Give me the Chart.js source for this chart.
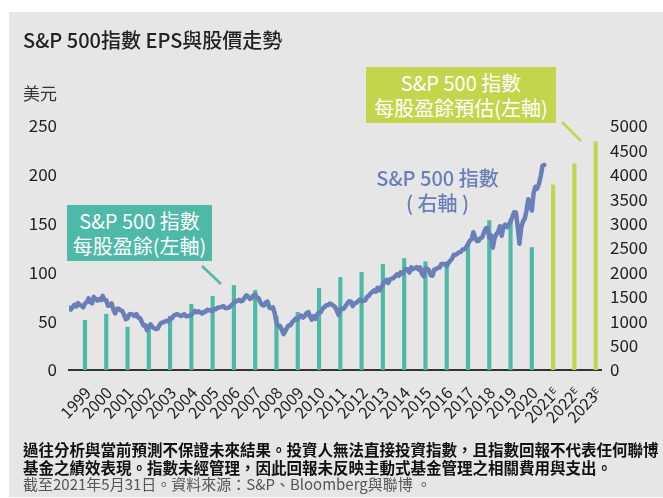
<!DOCTYPE html>
<html><head><meta charset="utf-8">
<script src="https://cdn.jsdelivr.net/npm/chart.js@4.4.1/dist/chart.umd.min.js"></script>
<style>
html,body{margin:0;padding:0;background:#fff;}
#wrap{position:relative;width:663px;height:498px;overflow:hidden;font-family:"Noto Sans CJK TC","Noto Sans",sans-serif;}
#panel{position:absolute;left:9px;top:12px;width:654px;height:485px;background:#e6e6e6;}
#c{position:absolute;left:0;top:0;}
.t{position:absolute;white-space:nowrap;}
.box{color:#fff;font-size:20px;line-height:25px;text-align:center;box-sizing:border-box;padding-top:3px;}
</style></head><body>
<div id="wrap">
<div id="panel"></div>
<canvas id="c" width="663" height="498"></canvas>
<div class="t" style="left:23px;top:27px;font-size:20px;color:#222;font-weight:500;line-height:26px">S&amp;P 500指數 EPS與股價走勢</div>
<div class="t" style="left:23px;top:82px;font-size:17px;color:#333;line-height:22px">美元</div>
<div class="t box" style="left:67px;top:205px;width:145px;height:56px;background:#4fb9a8;">S&amp;P 500 指數<br>每股盈餘(左軸)</div>
<div class="t box" style="left:366px;top:67px;width:190px;height:56px;background:#c3d54c;">S&amp;P 500 指數<br>每股盈餘預估(左軸)</div>
<div class="t" style="left:357px;top:165px;width:161px;text-align:center;font-size:20px;line-height:25px;color:#6a7fb8;font-weight:500">S&amp;P 500 指數<br>( 右軸 )</div>
<div class="t" style="left:23px;top:440px;font-size:15.5px;line-height:18px;color:#111;font-weight:700">過往分析與當前預測不保證未來結果。投資人無法直接投資指數，且指數回報不代表任何聯博<br>基金之績效表現。指數未經管理，因此回報未反映主動式基金管理之相關費用與支出。</div>
<div class="t" style="left:23px;top:475px;font-size:15px;line-height:18px;color:#555;">截至2021年5月31日。資料來源：S&amp;P、Bloomberg與聯博 。</div>
</div>
<script>
// Categories (years)
const years = ['1999','2000','2001','2002','2003','2004','2005','2006','2007','2008','2009','2010','2011','2012','2013','2014','2015','2016','2017','2018','2019','2020','2021ᴱ','2022ᴱ','2023ᴱ'];
// S&P 500 EPS, actual (USD, left axis)
const epsActual = [51.3,57.5,44.2,47,55.4,67.7,75.8,87,82,55.4,59.5,84,95.2,100.3,108.5,114.6,111.2,111.2,127.9,153.4,154.4,125.8];
// S&P 500 EPS, estimates (USD, left axis)
const epsEstimate = [190.1,211.5,234];
// S&P 500 index monthly level, Jan 1999 - May 2021 (right axis)
const spxStartYear = 1999;
const spxMonthly = [
1280,1238,1286,1335,1302,1373,1329,1320,1283,1363,1389,1469,
1394,1366,1499,1452,1421,1455,1431,1518,1437,1429,1315,1320,
1366,1240,1160,1249,1256,1224,1211,1134,1041,1060,1139,1148,
1130,1107,1147,1076,1067,990,912,916,815,886,936,880,
856,841,848,917,964,975,990,1008,996,1051,1058,1112,
1131,1145,1126,1107,1121,1141,1102,1104,1115,1130,1174,1212,
1181,1204,1181,1157,1192,1191,1234,1220,1229,1207,1249,1248,
1280,1281,1295,1311,1270,1270,1277,1304,1336,1378,1401,1418,
1438,1407,1421,1482,1531,1503,1455,1474,1527,1549,1481,1468,
1379,1331,1323,1386,1400,1280,1267,1283,1165,969,896,903,
826,735,798,873,919,919,987,1021,1057,1036,1096,1115,
1074,1104,1169,1187,1089,1031,1102,1049,1141,1183,1181,1258,
1286,1327,1326,1364,1345,1321,1292,1219,1131,1253,1247,1258,
1312,1366,1408,1398,1310,1362,1379,1407,1441,1412,1416,1426,
1498,1515,1569,1598,1631,1606,1686,1633,1682,1757,1806,1848,
1783,1859,1872,1884,1924,1960,1931,2003,1972,2018,2068,2059,
1995,2105,2068,2086,2107,2063,2104,1972,1920,2079,2080,2044,
1940,1932,2060,2065,2097,2099,2174,2171,2168,2126,2199,2239,
2279,2364,2363,2384,2412,2423,2470,2472,2519,2575,2648,2674,
2824,2714,2641,2648,2705,2718,2816,2902,2914,2712,2760,2507,
2704,2784,2834,2946,2752,2942,2980,2926,2977,3038,3141,3231,
3226,2954,2585,2912,3044,3100,3271,3500,3363,3270,3622,3756,
3714,3811,3973,4181,4204];

const TEAL = '#4fb9a8', LIME = '#c3d54c', BLUE = '#6a7fb8';
const eps = epsActual.concat(epsEstimate);
const spxPoints = spxMonthly.map((v, i) => ({x: -0.5 + i / 12, y: v}));

const pointers = {
  id: 'pointers',
  afterDatasetsDraw(chart) {
    const c = chart.ctx;
    c.save();
    c.lineWidth = 2.5;
    c.strokeStyle = TEAL;
    c.beginPath(); c.moveTo(202, 266); c.lineTo(221, 284); c.stroke();
    c.strokeStyle = LIME;
    c.beginPath(); c.moveTo(562, 122); c.lineTo(581, 141); c.stroke();
    c.restore();
  }
};

const FAMILY = '"Noto Sans CJK TC","Noto Sans",sans-serif';
const tickFont = {family: FAMILY, size: 17};
new Chart(document.getElementById('c'), {
  data: {
    labels: years,
    datasets: [
      {type: 'line', data: spxPoints, xAxisID: 'x2', yAxisID: 'y2', borderColor: BLUE, borderWidth: 4.5,
       pointRadius: 0, tension: 0, order: 0, borderJoinStyle: 'round', borderCapStyle: 'round'},
      {type: 'bar', data: eps, xAxisID: 'x', yAxisID: 'y', order: 1,
       backgroundColor: ctx => ctx.dataIndex >= epsActual.length ? LIME : TEAL,
       categoryPercentage: 1, barPercentage: 0.39}
    ]
  },
  options: {
    responsive: false, animation: false,
    layout: {padding: {top: 126, bottom: 0, left: 0, right: 0}},
    plugins: {legend: {display: false}, tooltip: {enabled: false}},
    scales: {
      x: {type: 'category', position: 'bottom', offset: true,
          grid: {display: false, drawTicks: false}, border: {display: true, color: '#333', width: 2},
          ticks: {minRotation: 47, maxRotation: 47, autoSkip: false, color: '#222', labelOffset: 8, padding: 13,
                  font: {family: FAMILY, size: 16}},
          afterFit: s => { s.height = 128; }},
      x2: {type: 'linear', display: false, min: -0.5, max: 24.5},
      y: {position: 'left', min: 0, max: 250, grid: {display: false, drawTicks: false}, border: {display: false},
          ticks: {stepSize: 50, color: '#222', padding: 12, font: tickFont},
          afterFit: s => { s.width = 69; }},
      y2: {position: 'right', min: 0, max: 5000, grid: {display: false, drawTicks: false}, border: {display: false},
           ticks: {stepSize: 500, color: '#222', padding: 9, font: tickFont, callback: v => String(v)},
           afterFit: s => { s.width = 62; }}
    }
  },
  plugins: [pointers]
});
</script>
</body></html>
